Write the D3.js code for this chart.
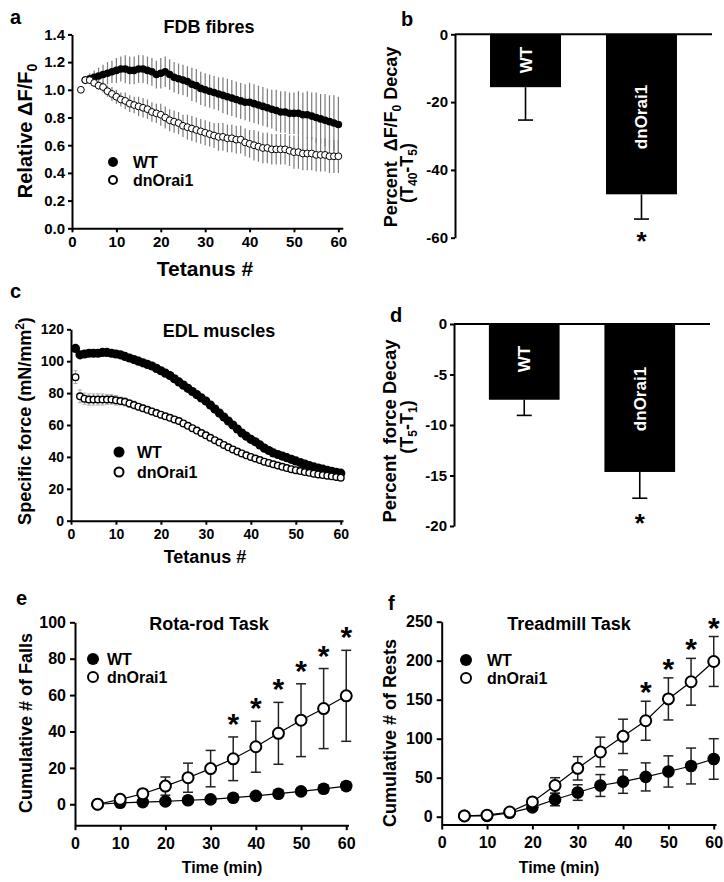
<!DOCTYPE html>
<html><head><meta charset="utf-8">
<script src="https://cdn.jsdelivr.net/npm/d3@7"></script>
<style>
body{margin:0;background:#fff;}
svg{display:block;font-family:"Liberation Sans",Arial,sans-serif;font-weight:bold;}
</style></head><body>
<svg id="fig" width="724" height="882"></svg>
<script>
// ---------------- DATA ----------------
// Panel a: FDB fibres, relative dF/F0 per tetanus
const fdbWTStart = 3;
const fdbWT = [1.07,1.08,1.09,1.10,1.11,1.12,1.13,1.14,1.15,1.15,1.14,1.14,1.15,1.15,1.14,1.13,1.11,1.12,1.13,1.11,1.09,1.08,1.07,1.06,1.04,1.03,1.01,1.00,0.99,0.98,0.97,0.96,0.95,0.94,0.93,0.92,0.91,0.91,0.90,0.89,0.88,0.87,0.86,0.85,0.84,0.84,0.83,0.83,0.83,0.82,0.82,0.81,0.80,0.79,0.78,0.77,0.76,0.75];
const fdbWTerr = [0.03,0.04,0.05,0.06,0.07,0.08,0.08,0.09,0.09,0.10,0.10,0.10,0.10,0.10,0.10,0.10,0.10,0.11,0.11,0.11,0.11,0.11,0.11,0.11,0.12,0.12,0.12,0.12,0.12,0.12,0.12,0.13,0.13,0.13,0.13,0.13,0.13,0.14,0.14,0.14,0.14,0.14,0.14,0.15,0.15,0.15,0.15,0.15,0.16,0.16,0.17,0.17,0.18,0.18,0.19,0.19,0.20,0.20];
const fdbKOStart = 2;
const fdbKO = [1.00,1.07,1.07,1.05,1.03,1.02,0.99,0.97,0.95,0.93,0.92,0.90,0.89,0.88,0.87,0.86,0.84,0.83,0.82,0.80,0.78,0.77,0.76,0.74,0.73,0.72,0.71,0.70,0.69,0.68,0.67,0.66,0.66,0.65,0.65,0.64,0.64,0.62,0.61,0.60,0.59,0.58,0.58,0.57,0.57,0.57,0.57,0.56,0.55,0.55,0.54,0.54,0.54,0.53,0.53,0.53,0.52,0.52,0.52];
const fdbKOerr = [0.01,0.02,0.02,0.03,0.03,0.04,0.04,0.05,0.05,0.05,0.06,0.06,0.06,0.07,0.07,0.07,0.07,0.07,0.08,0.08,0.08,0.08,0.08,0.08,0.09,0.09,0.09,0.09,0.09,0.09,0.09,0.10,0.10,0.10,0.10,0.10,0.10,0.10,0.10,0.11,0.11,0.11,0.11,0.11,0.11,0.11,0.11,0.11,0.12,0.12,0.12,0.12,0.12,0.12,0.12,0.12,0.12,0.12,0.12];
const fdbYTicks = [0,0.2,0.4,0.6,0.8,1.0,1.2,1.4];
const tetTicks = [0,10,20,30,40,50,60];

// Panel b: % dF/F0 decay (T40-T5)
const groups = ["WT","dnOrai1"];
const decayFDB = [-15.6,-47.2];
const decayFDBerr = [9.7,7.3];
const decayFDBTicks = [0,-20,-40,-60];

// Panel c: EDL specific force per tetanus (t = 1..60)
const edlStart = 1;
const edlWT = [108,104,104.5,105,105,105,105.5,105.5,105,104.5,104,103,102,101,100,99,98,97,95.5,94,92.5,91,89,87,85,83,81,79,77,75,72.5,70,67.5,65,62.5,60,57.5,55,53,51,49.5,47.5,45.5,44,42.5,41.5,40.5,39.5,38.5,37.5,36.5,35.5,34.5,33.7,33,32.3,31.6,31,30.3,29.8];
const edlWTerr = [1.5,1.2,1.2,1.2,1.2,1.2,1.2,1.2,1.5,1.5,1.5,1.5,1.5,2,2,2,2,2,2,2,2,2,2,2,2,2,2,2,2,2,2,2,2,2,2,1.8,1.8,1.5,1.5,1.5,1.5,1.5,1.2,1.2,1.2,1.2,1.2,1.2,1.2,1.2,1.2,1.2,1.2,1.2,1.2,1.2,1.2,1.2,1.2,1.2];
const edlKO = [90,78,76.5,76,76,76,76,76,76,75.5,75,74.5,73.5,72.5,71.5,70.5,69.5,68.5,67.5,66.5,65.5,64.5,63.5,62.5,61,59.5,58,56.5,55,53.5,52,50.5,49,47.5,46,44.7,43.4,42.2,41,40,39,38,37,36.2,35.4,34.6,33.8,33,32.3,31.7,31.1,30.5,30,29.5,29,28.6,28.2,27.8,27.4,27];
const edlKOerr = [4,4,3.5,3.5,3.5,3.5,3.5,3,3,3,2.5,2.5,2.5,2.5,2,2,2,2,2,2,1.5,1.5,1.5,1.5,1.5,1.5,1.5,1.5,1.5,1.5,1.5,1.5,1.5,1.5,1.5,1.5,1.5,1.5,1.5,1.5,1.5,1.5,1.5,1.5,1.5,1.5,1.5,1.5,1.5,1.5,1.5,1.5,1.5,1.5,1.5,1.5,1.5,1.5,1.5,1.5];
const edlYTicks = [0,20,40,60,80,100,120];

// Panel d: % force decay (T5-T1)
const decayEDL = [-7.5,-14.65];
const decayEDLerr = [1.55,2.6];
const decayEDLTicks = [0,-5,-10,-15,-20];

// Panel e: Rota-rod task
const timeMin = [5,10,15,20,25,30,35,40,45,50,55,60];
const timeTicks = [0,10,20,30,40,50,60];
const rotaWT = [0,0.8,1.2,1.6,2.2,2.7,3.6,4.6,5.8,7.1,8.5,10];
const rotaWTerr = [0,0.3,0.5,0.6,0.8,1,1.2,1.3,1.5,1.6,1.8,2];
const rotaKO = [0,2.7,5.8,10,14.6,19.6,25,31.6,39,46.2,52.6,59.6];
const rotaKOerr = [0,1,2,5,8,10,12,14,17,20,22,25];
const rotaSig = [35,40,45,50,55,60];
const rotaYTicks = [0,20,40,60,80,100];

// Panel f: Treadmill task
const treadWT = [1,1,5,12,22,31,40,45,51,58,65,74];
const treadWTerr = [0,0,1,3,8,10,14,15,18,20,23,26];
const treadKO = [1,2,6,19,40,62,83,103,123,151,173,199];
const treadKOerr = [0,0,1,3,10,15,19,22,25,27,30,32];
const treadSig = [45,50,55,60];
const treadYTicks = [0,50,100,150,200,250];

// ---------------- DRAWING ----------------
const svg = d3.select("#fig");
const plainFmt = d => String(d);   // hyphen-minus like the original

function styleAxis(g, fs){
  g.attr("font-family", null).attr("font-size", fs).attr("font-weight","bold");
  g.select(".domain").attr("stroke","#000").attr("stroke-width",2);
  g.selectAll(".tick line").attr("stroke","#000").attr("stroke-width",2);
  g.selectAll(".tick text").attr("fill","#000");
}
function label(x, y, txt, fs, anchor){
  return svg.append("text").attr("x",x).attr("y",y).attr("font-size",fs)
    .attr("text-anchor",anchor||"start").text(txt);
}
function series(vals, errs, start, times){
  return vals.map((v,i)=>({t: times ? times[i] : start+i, v, e: errs[i]}));
}
function legend(x, y1, y2, r, sw, tx, fs){
  svg.append("circle").attr("cx",x).attr("cy",y1).attr("r",r).attr("fill","#000");
  svg.append("circle").attr("cx",x).attr("cy",y2).attr("r",r-sw/2).attr("fill","#fff").attr("stroke","#000").attr("stroke-width",sw);
  label(tx, y1+6, "WT", fs);
  label(tx, y2+6, "dnOrai1", fs);
}

// ===== Panel a =====
{
  const x = d3.scaleLinear().domain([0,61]).range([72,342.8]);
  const y = d3.scaleLinear().domain([0,1.4]).range([228.3,34.4]);
  const wt = series(fdbWT, fdbWTerr, fdbWTStart);
  const ko = series(fdbKO, fdbKOerr, fdbKOStart);
  const g = svg.append("g");
  [wt, ko].forEach(s=>{
    g.append("g").selectAll("line").data(s).join("line")
      .attr("x1",d=>x(d.t)).attr("x2",d=>x(d.t))
      .attr("y1",d=>y(d.v-d.e)).attr("y2",d=>y(d.v+d.e))
      .attr("stroke","#7a7a7a").attr("stroke-width",1.2);
  });
  g.append("g").selectAll("circle").data(wt).join("circle")
    .attr("cx",d=>x(d.t)).attr("cy",d=>y(d.v)).attr("r",3.8).attr("fill","#000");
  g.append("g").selectAll("circle").data(ko).join("circle")
    .attr("cx",d=>x(d.t)).attr("cy",d=>y(d.v)).attr("r",3.4)
    .attr("fill","#fff").attr("stroke","#000").attr("stroke-width",1);
  const ax = svg.append("g").attr("transform","translate(72,0)")
    .call(d3.axisLeft(y).tickValues(fdbYTicks).tickFormat(d3.format(".1f")).tickSize(4).tickPadding(3).tickSizeOuter(0));
  styleAxis(ax, 15);
  const bx = svg.append("g").attr("transform","translate(0,228.3)")
    .call(d3.axisBottom(x).tickValues(tetTicks).tickSize(4).tickPadding(4).tickSizeOuter(0));
  styleAxis(bx, 15);
  label(10, 24, "a", 20);
  label(209, 33, "FDB fibres", 18, "middle");
  label(205, 276, "Tetanus #", 21, "middle");
  const yl = svg.append("text").attr("transform","translate(32,131) rotate(-90)")
    .attr("text-anchor","middle").attr("font-size",20);
  yl.append("tspan").text("Relative \u0394F/F");
  yl.append("tspan").attr("font-size",14).attr("dy",5).text("0");
  legend(113, 162, 180, 5, 2, 133, 16);
}

// ===== Bar panels b & d =====
function barPanel(vals, errs, ticks, dom, yr, xr, opts){
  const x = d3.scaleBand().domain(groups).range(xr).paddingInner(0.388).paddingOuter(0.302);
  const y = d3.scaleLinear().domain(dom).range(yr);
  const g = svg.append("g");
  const data = groups.map((c,i)=>({c, v: vals[i], e: errs[i]}));
  g.selectAll("rect").data(data).join("rect")
    .attr("x",d=>x(d.c)).attr("width",x.bandwidth())
    .attr("y",y(0)).attr("height",d=>y(d.v)-y(0)).attr("fill","#000");
  g.selectAll("line.eb").data(data).join("line").attr("class","eb")
    .attr("x1",d=>x(d.c)+x.bandwidth()/2).attr("x2",d=>x(d.c)+x.bandwidth()/2)
    .attr("y1",d=>y(d.v)).attr("y2",d=>y(d.v-d.e)).attr("stroke","#000").attr("stroke-width",1.6);
  g.selectAll("line.cap").data(data).join("line").attr("class","cap")
    .attr("x1",d=>x(d.c)+x.bandwidth()/2-7.5).attr("x2",d=>x(d.c)+x.bandwidth()/2+7.5)
    .attr("y1",d=>y(d.v-d.e)).attr("y2",d=>y(d.v-d.e)).attr("stroke","#000").attr("stroke-width",1.6);
  g.append("line").attr("x1",xr[0]).attr("x2",xr[1]).attr("y1",y(0)).attr("y2",y(0))
    .attr("stroke","#000").attr("stroke-width",2);
  const ax = svg.append("g").attr("transform",`translate(${xr[0]},0)`)
    .call(d3.axisLeft(y).tickValues(ticks).tickFormat(plainFmt).tickSize(4).tickPadding(3).tickSizeOuter(0));
  styleAxis(ax, 15);
  data.forEach((d,i)=>{
    svg.append("text").attr("transform",`translate(${x(d.c)+x.bandwidth()/2+6},${opts.labY[i]}) rotate(-90)`)
      .attr("text-anchor","middle").attr("font-size",17).attr("fill","#fff").text(d.c);
  });
  const dn = data[1];
  svg.append("text").attr("x",x(dn.c)+x.bandwidth()/2).attr("y",opts.astY)
    .attr("text-anchor","middle").attr("font-size",26).text("*");
  return {x,y};
}
{
  barPanel(decayFDB, decayFDBerr, decayFDBTicks, [-60,0], [237.7,34.3], [455,712], {labY:[60,117], astY:250});
  label(401, 26, "b", 20);
  const l1 = svg.append("text").attr("transform","translate(397,137) rotate(-90)")
    .attr("text-anchor","middle").attr("font-size",18).attr("xml:space","preserve");
  l1.append("tspan").text("Percent  \u0394F/F");
  l1.append("tspan").attr("font-size",12).attr("dy",4).text("0");
  l1.append("tspan").attr("dy",-4).text(" Decay");
  const l2 = svg.append("text").attr("transform","translate(413,173) rotate(-90)")
    .attr("text-anchor","middle").attr("font-size",18);
  l2.append("tspan").text("(T");
  l2.append("tspan").attr("font-size",12).attr("dy",4).text("40");
  l2.append("tspan").attr("dy",-4).text("-T");
  l2.append("tspan").attr("font-size",12).attr("dy",4).text("5");
  l2.append("tspan").attr("dy",-4).text(")");
}
{
  barPanel(decayEDL, decayEDLerr, decayEDLTicks, [-20,0], [526,324], [454,710], {labY:[359,399], astY:532});
  label(390, 322, "d", 20);
  const l1 = svg.append("text").attr("transform","translate(396,431) rotate(-90)")
    .attr("text-anchor","middle").attr("font-size",18.5).attr("xml:space","preserve");
  l1.text("Percent  force Decay");
  const l2 = svg.append("text").attr("transform","translate(413,427) rotate(-90)")
    .attr("text-anchor","middle").attr("font-size",18);
  l2.append("tspan").text("(T");
  l2.append("tspan").attr("font-size",12).attr("dy",4).text("5");
  l2.append("tspan").attr("dy",-4).text("-T");
  l2.append("tspan").attr("font-size",12).attr("dy",4).text("1");
  l2.append("tspan").attr("dy",-4).text(")");
}

// ===== Panel c =====
{
  const x = d3.scaleLinear().domain([0,60.5]).range([71,343]);
  const y = d3.scaleLinear().domain([0,120]).range([520.7,329.3]);
  const wt = series(edlWT, edlWTerr, edlStart);
  const ko = series(edlKO, edlKOerr, edlStart);
  const g = svg.append("g");
  [wt, ko].forEach(s=>{
    const eg = g.append("g").attr("stroke","#aaaaaa").attr("stroke-width",1);
    eg.selectAll("line.v").data(s).join("line").attr("class","v")
      .attr("x1",d=>x(d.t)).attr("x2",d=>x(d.t)).attr("y1",d=>y(d.v-d.e)).attr("y2",d=>y(d.v+d.e));
    eg.selectAll("line.t").data(s).join("line").attr("class","t")
      .attr("x1",d=>x(d.t)-2).attr("x2",d=>x(d.t)+2).attr("y1",d=>y(d.v+d.e)).attr("y2",d=>y(d.v+d.e));
    eg.selectAll("line.b").data(s).join("line").attr("class","b")
      .attr("x1",d=>x(d.t)-2).attr("x2",d=>x(d.t)+2).attr("y1",d=>y(d.v-d.e)).attr("y2",d=>y(d.v-d.e));
  });
  g.append("g").selectAll("circle").data(wt).join("circle")
    .attr("cx",d=>x(d.t)).attr("cy",d=>y(d.v)).attr("r",4.6).attr("fill","#000");
  g.append("g").selectAll("circle").data(ko).join("circle")
    .attr("cx",d=>x(d.t)).attr("cy",d=>y(d.v)).attr("r",3.3)
    .attr("fill","#fff").attr("stroke","#000").attr("stroke-width",1.4);
  const ax = svg.append("g").attr("transform","translate(71,0)")
    .call(d3.axisLeft(y).tickValues(edlYTicks).tickSize(4).tickPadding(3).tickSizeOuter(0));
  styleAxis(ax, 14);
  const bx = svg.append("g").attr("transform","translate(0,520.7)")
    .call(d3.axisBottom(x).tickValues(tetTicks).tickSize(4).tickPadding(4).tickSizeOuter(0));
  styleAxis(bx, 14);
  label(10, 298, "c", 20);
  label(219, 337, "EDL muscles", 18, "middle");
  label(205, 563, "Tetanus #", 18, "middle");
  const yl = svg.append("text").attr("transform","translate(31,421) rotate(-90)")
    .attr("text-anchor","middle").attr("font-size",18);
  yl.append("tspan").text("Specific force (mN/mm");
  yl.append("tspan").attr("font-size",12).attr("dy",-7).text("2");
  yl.append("tspan").attr("dy",7).text(")");
  legend(119, 452, 472, 5.5, 2, 137, 16);
}

// ===== Line panels e & f =====
function timePanel(wtV, wtE, koV, koE, sig, ticks, ydom, yr, xr, opts){
  const x = d3.scaleLinear().domain([0,60.5]).range(xr);
  const y = d3.scaleLinear().domain(ydom).range(yr);
  const wt = series(wtV, wtE, 0, timeMin);
  const ko = series(koV, koE, 0, timeMin);
  const g = svg.append("g");
  [wt, ko].forEach(s=>{
    const eg = g.append("g").attr("stroke","#222").attr("stroke-width",1.5);
    const f = s.filter(d=>d.e>0);
    eg.selectAll("line.v").data(f).join("line").attr("class","v")
      .attr("x1",d=>x(d.t)).attr("x2",d=>x(d.t)).attr("y1",d=>y(d.v-d.e)).attr("y2",d=>y(d.v+d.e));
    eg.selectAll("line.t").data(f).join("line").attr("class","t")
      .attr("x1",d=>x(d.t)-5).attr("x2",d=>x(d.t)+5).attr("y1",d=>y(d.v+d.e)).attr("y2",d=>y(d.v+d.e));
    eg.selectAll("line.b").data(f).join("line").attr("class","b")
      .attr("x1",d=>x(d.t)-5).attr("x2",d=>x(d.t)+5).attr("y1",d=>y(d.v-d.e)).attr("y2",d=>y(d.v-d.e));
  });
  const line = d3.line().x(d=>x(d.t)).y(d=>y(d.v));
  [wt, ko].forEach(s=> g.append("path").attr("d",line(s)).attr("fill","none").attr("stroke","#000").attr("stroke-width",1.2));
  g.append("g").selectAll("circle").data(wt).join("circle")
    .attr("cx",d=>x(d.t)).attr("cy",d=>y(d.v)).attr("r",6.3).attr("fill","#000");
  g.append("g").selectAll("circle").data(ko).join("circle")
    .attr("cx",d=>x(d.t)).attr("cy",d=>y(d.v)).attr("r",5.5)
    .attr("fill","#fff").attr("stroke","#000").attr("stroke-width",2);
  ko.filter(d=>sig.includes(d.t)).forEach(d=>{
    svg.append("text").attr("x",x(d.t)).attr("y",y(d.v+d.e)-opts.astOff+17)
      .attr("text-anchor","middle").attr("font-size",30).text("*");
  });
  const ax = svg.append("g").attr("transform",`translate(${xr[0]},0)`)
    .call(d3.axisLeft(y).tickValues(ticks).tickSize(5).tickPadding(4).tickSizeOuter(0));
  styleAxis(ax, 16);
  const bx = svg.append("g").attr("transform",`translate(0,${yr[0]})`)
    .call(d3.axisBottom(x).tickValues(timeTicks).tickSize(5).tickPadding(7).tickSizeOuter(0));
  styleAxis(bx, 16);
}
{
  timePanel(rotaWT, rotaWTerr, rotaKO, rotaKOerr, rotaSig, rotaYTicks, [-11.5,100], [825.2,622.3], [75,348.5], {astOff:20});
  label(16, 605, "e", 20);
  label(209, 630, "Rota-rod Task", 18, "middle");
  label(222, 873, "Time (min)", 16, "middle");
  svg.append("text").attr("transform","translate(32,723) rotate(-90)")
    .attr("text-anchor","middle").attr("font-size",18).text("Cumulative # of Falls");
  legend(93, 659, 677, 6, 2, 107, 16);
}
{
  timePanel(treadWT, treadWTerr, treadKO, treadKOerr, treadSig, treadYTicks, [-10,250], [824.5,621.7], [441.7,716], {astOff:16});
  label(388, 610, "f", 20);
  label(569, 630, "Treadmill Task", 18, "middle");
  label(559, 873, "Time (min)", 16, "middle");
  svg.append("text").attr("transform","translate(396,733) rotate(-90)")
    .attr("text-anchor","middle").attr("font-size",18).text("Cumulative # of Rests");
  legend(466, 660, 678, 6, 2, 487, 16);
}
</script>
</body></html>
